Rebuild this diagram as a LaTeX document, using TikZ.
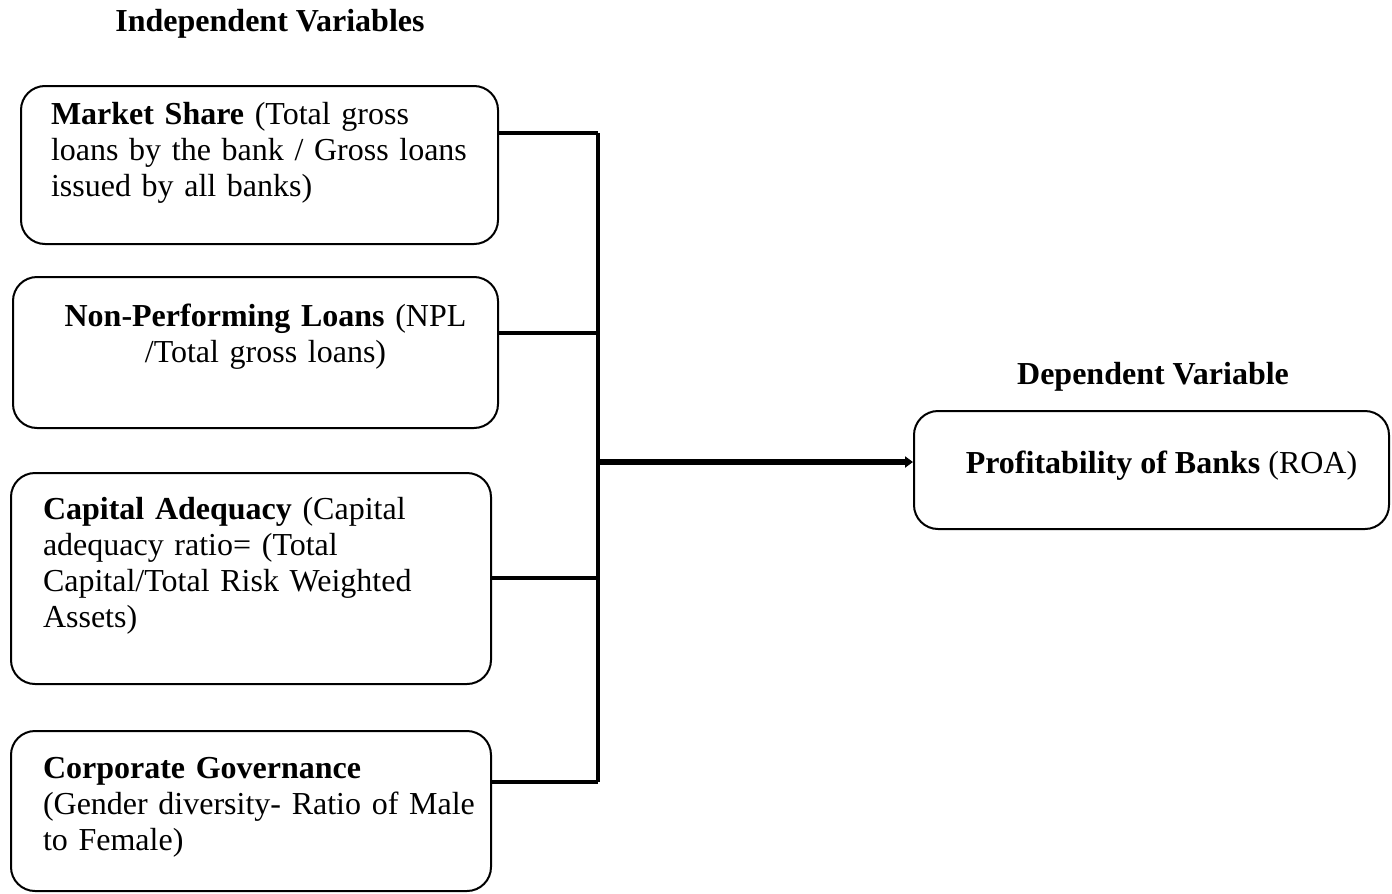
\documentclass[tikz,border=0pt]{standalone}
\usepackage{fontspec}
\setmainfont{Liberation Serif}
\usetikzlibrary{arrows.meta}
\begin{document}
\begin{tikzpicture}[x=0.5pt,y=-0.5pt,
        varbox/.style={draw,line width=1pt,rounded corners=12pt,anchor=north west,inner ysep=0pt,align=left},
        link/.style={line width=2pt},
        arrow/.style={line width=3pt,-{Triangle[length=4pt,width=5.5pt]}}]
    \useasboundingbox (0,0) rectangle (1392,894);
    \begin{scope}[every node/.style={font=\fontsize{16pt}{18pt}\selectfont}]
        \node[anchor=base,font=\fontsize{16pt}{18pt}\selectfont\bfseries] (indep) at (270,32) {Independent Variables};
        \node[anchor=base,font=\fontsize{16pt}{18pt}\selectfont\bfseries] (dep) at (1153,384) {Dependent Variable};
        \node[varbox,inner xsep=15pt,text width=208.5pt,text height=19pt,text depth=60pt] (share) at (20,85)
            {\textbf{Market Share} (Total gross\\\mbox{loans by the bank / Gross loans}\\issued by all banks)};
        \node[varbox,align=center,inner xsep=15pt,text width=212.5pt,text height=24.5pt,text depth=51pt] (npl) at (12,276)
            {\hspace*{10pt}\textbf{Non-Performing Loans} (NPL\\\hspace*{10pt}/Total gross loans)};
        \node[varbox,inner xsep=16pt,text width=208pt,text height=23pt,text depth=82.5pt] (car) at (10,472)
            {\textbf{Capital Adequacy} (Capital\\adequacy ratio= (Total\\Capital/Total Risk Weighted\\Assets)};
        \node[varbox,inner xsep=16pt,text width=208pt,text height=23.5pt,text depth=56.5pt] (gov) at (10,730)
            {\textbf{Corporate Governance}\\\mbox{(Gender diversity- Ratio of Male}\\to Female)};
        \node[varbox,align=center,inner xsep=0pt,minimum width=237.5pt,text height=31pt,text depth=28pt] (roa) at (913,410)
            {\hspace*{10pt}\textbf{Profitability of Banks} (ROA)};
    \end{scope}
    % joints on the spine
    \coordinate (j1) at (598,133);
    \coordinate (j2) at (598,333);
    \coordinate (ja) at (598,462);
    \coordinate (j3) at (598,578);
    \coordinate (j4) at (598,782);
    \draw[link] (share.east |- j1) -- (j1);
    \draw[link] (npl.east |- j2) -- (j2);
    \draw[link] (car.east |- j3) -- (j3);
    \draw[link] (gov.east |- j4) -- (j4);
    \draw[link] (j1) -- (j4);
    \draw[arrow] (ja) -- (roa.west |- ja);
\end{tikzpicture}
\end{document}
